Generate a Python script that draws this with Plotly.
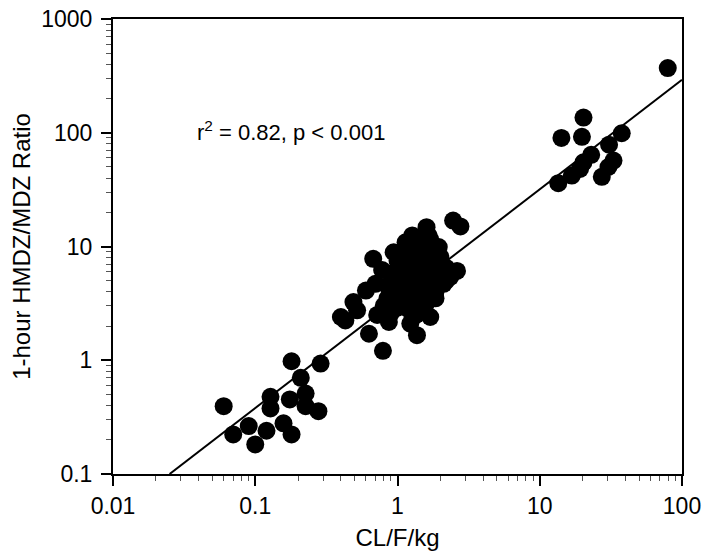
import numpy as np
import plotly.graph_objects as go

FONT = "Liberation Sans, Arial, sans-serif"

# Low-clearance group (lower left)
low_x = [0.18, 0.288, 0.209, 0.060, 0.128, 0.128, 0.175, 0.226, 0.226, 0.278,
         0.070, 0.090, 0.120, 0.100, 0.158, 0.180]
low_y = [0.98, 0.935, 0.70, 0.395, 0.477, 0.377, 0.452, 0.51, 0.395, 0.357,
         0.223, 0.264, 0.24, 0.182, 0.279, 0.223]

# Main cluster around CL/F/kg ~ 1
mid_x = [2.46, 2.77, 1.60, 1.27, 1.14, 0.94, 0.675, 0.78, 2.62, 2.35,
         0.70, 0.60, 0.49, 0.52, 1.85, 1.70, 1.23, 1.37, 0.87, 0.63,
         0.79, 1.95, 2.00, 2.11, 1.00, 0.72, 0.40, 0.43,
         0.80, 0.85, 0.90, 0.95, 1.00, 1.05, 1.10, 1.20, 1.30, 1.50,
         1.70, 1.80, 1.90, 1.75, 1.60, 1.50, 1.40, 1.30, 1.20, 1.10,
         1.00, 0.90, 1.15, 1.25, 1.35, 1.45, 1.55, 1.65, 1.80, 1.90,
         2.00, 1.70, 1.60, 1.50, 1.05, 0.95, 0.85, 0.90, 1.00, 1.10,
         1.20, 1.30, 1.65, 1.25, 1.45, 1.35, 1.55, 1.85, 2.20, 2.20, 1.60]
mid_y = [16.9, 15.0, 14.8, 12.5, 10.9, 8.9, 7.8, 6.2, 6.1, 5.4,
         4.7, 4.1, 3.25, 2.75, 3.5, 2.4, 2.1, 1.66, 2.17, 1.71,
         1.21, 9.9, 8.1, 4.7, 2.9, 2.5, 2.4, 2.24,
         3.0, 3.5, 4.0, 5.0, 6.0, 7.0, 8.0, 9.0, 10.0, 12.0,
         11.5, 10.0, 8.5, 7.0, 6.0, 5.0, 4.0, 3.3, 2.8, 3.2,
         3.8, 2.6, 4.5, 5.5, 6.5, 7.5, 8.5, 9.5, 5.5, 6.5,
         5.0, 4.2, 3.2, 2.7, 4.8, 3.2, 4.5, 5.8, 7.5, 5.8,
         7.0, 8.5, 12.5, 3.8, 3.0, 2.5, 4.5, 4.0, 6.5, 5.0, 3.8]

# High-clearance group (upper right)
high_x = [79.4, 20.3, 14.2, 19.8, 37.7, 30.7, 23.0, 20.3, 19.2, 16.8,
          13.5, 33.0, 30.4, 27.3]
high_y = [370, 136, 90, 92, 99, 78.5, 64, 55, 48, 42,
          36, 57, 50, 41]

# log-log regression fit: log10(y) = intercept + slope * log10(x)
fit_slope = 0.962
fit_intercept = 0.541
fit_x = [0.025, 100]

x_all = low_x + mid_x + high_x
y_all = low_y + mid_y + high_y
fit_y = [10 ** (fit_intercept + fit_slope * np.log10(v)) for v in fit_x]

fig = go.Figure()
fig.add_trace(go.Scatter(x=x_all, y=y_all, mode="markers",
                         marker=dict(color="black", size=18, line=dict(width=0)),
                         cliponaxis=False))
fig.add_trace(go.Scatter(x=fit_x, y=fit_y, mode="lines",
                         line=dict(color="black", width=2)))

axis_common = dict(
    type="log", dtick=1, showgrid=False, zeroline=False, automargin=False,
    showline=True, linecolor="black", linewidth=2, mirror=True,
    ticks="outside", ticklen=10, tickwidth=1.5, tickcolor="black",
    minor=dict(ticks="outside", ticklen=5, tickwidth=1, tickcolor="#555",
               dtick="D1", showgrid=False),
    tickfont=dict(family=FONT, size=23, color="black"),
)

fig.update_xaxes(range=[-2, 2], **axis_common,
                 title=dict(text="CL/F/kg", standoff=12,
                            font=dict(family=FONT, size=24, color="black")))
fig.update_yaxes(range=[-1, 3], **axis_common, ticklabelstandoff=4,
                 title=dict(text="1-hour HMDZ/MDZ Ratio", standoff=4,
                            font=dict(family=FONT, size=24, color="black")))

fig.add_annotation(text="r<sup>2</sup> = 0.82, p < 0.001", xref="paper", yref="paper",
                   x=0.144, y=0.754, xanchor="left", yanchor="middle", showarrow=False,
                   font=dict(family=FONT, size=22, color="black"))

fig.update_layout(
    width=710, height=559,
    margin=dict(l=113, r=28, t=19, b=85),
    plot_bgcolor="white", paper_bgcolor="white",
    showlegend=False,
)

# drop the default page margin so the figure sits at the window's corner
fig.write_html("out.html", config={"displayModeBar": False},
               post_script="document.body.style.margin = '0';")
